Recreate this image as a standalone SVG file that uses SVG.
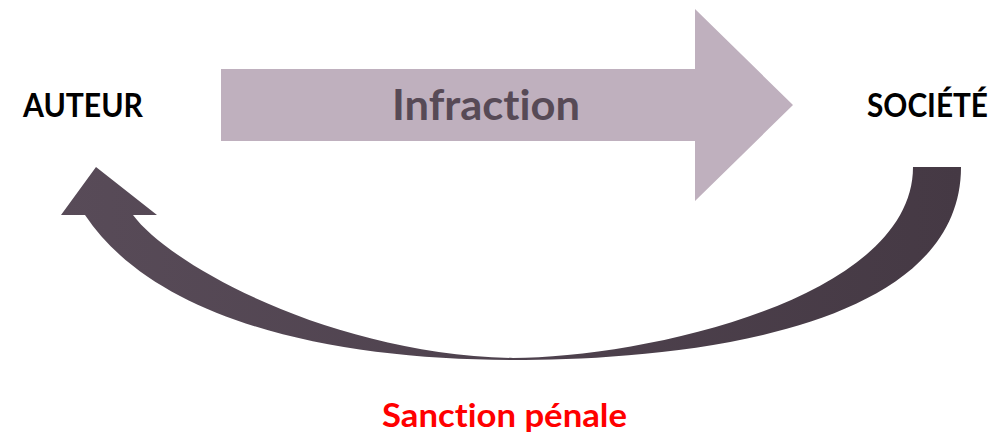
<svg xmlns="http://www.w3.org/2000/svg" width="1000" height="436" viewBox="0 0 1000 436">
<style>
.lbl{font-family:Lato,"Open Sans","Liberation Sans",sans-serif;font-weight:bold;font-variant-ligatures:none;}
.side{font-size:32px;fill:#000;}
</style>
<defs>
<linearGradient id="g" x1="61" y1="0" x2="961" y2="0" gradientUnits="userSpaceOnUse">
<stop offset="0" stop-color="#584b58"/>
<stop offset="1" stop-color="#453944"/>
</linearGradient>
</defs>
<rect width="1000" height="436" fill="#fff"/>
<g id="infraction">
<path d="M221,69 L695,69 L695,9 L793,105 L695,201 L695,141 L221,141 Z" fill="#bfb0be"/>
<text class="lbl" x="392" y="120" font-size="42" fill="#574a56" textLength="188" lengthAdjust="spacingAndGlyphs">Infraction</text>
</g>
<g id="auteur">
<text class="lbl side" x="23" y="117" textLength="120" lengthAdjust="spacingAndGlyphs">AUTEUR</text>
</g>
<g id="societe">
<text class="lbl side" x="867" y="117" textLength="121" lengthAdjust="spacingAndGlyphs">SOCIÉTÉ</text>
</g>
<g id="connectors">
<path d="M85,215 L61,215 L96,167 L157,215 L133,215 C170,265 330,354 513,358 C640,358 913,300 913,167 L961,167 C961,340 650,360 513,360 C330,360 155,320 85,215 Z" fill="url(#g)"/>
</g>
<g id="sanction">
<text class="lbl" x="382" y="427" font-size="33" fill="#ff0000" textLength="245" lengthAdjust="spacingAndGlyphs">Sanction pénale</text>
</g>
</svg>
